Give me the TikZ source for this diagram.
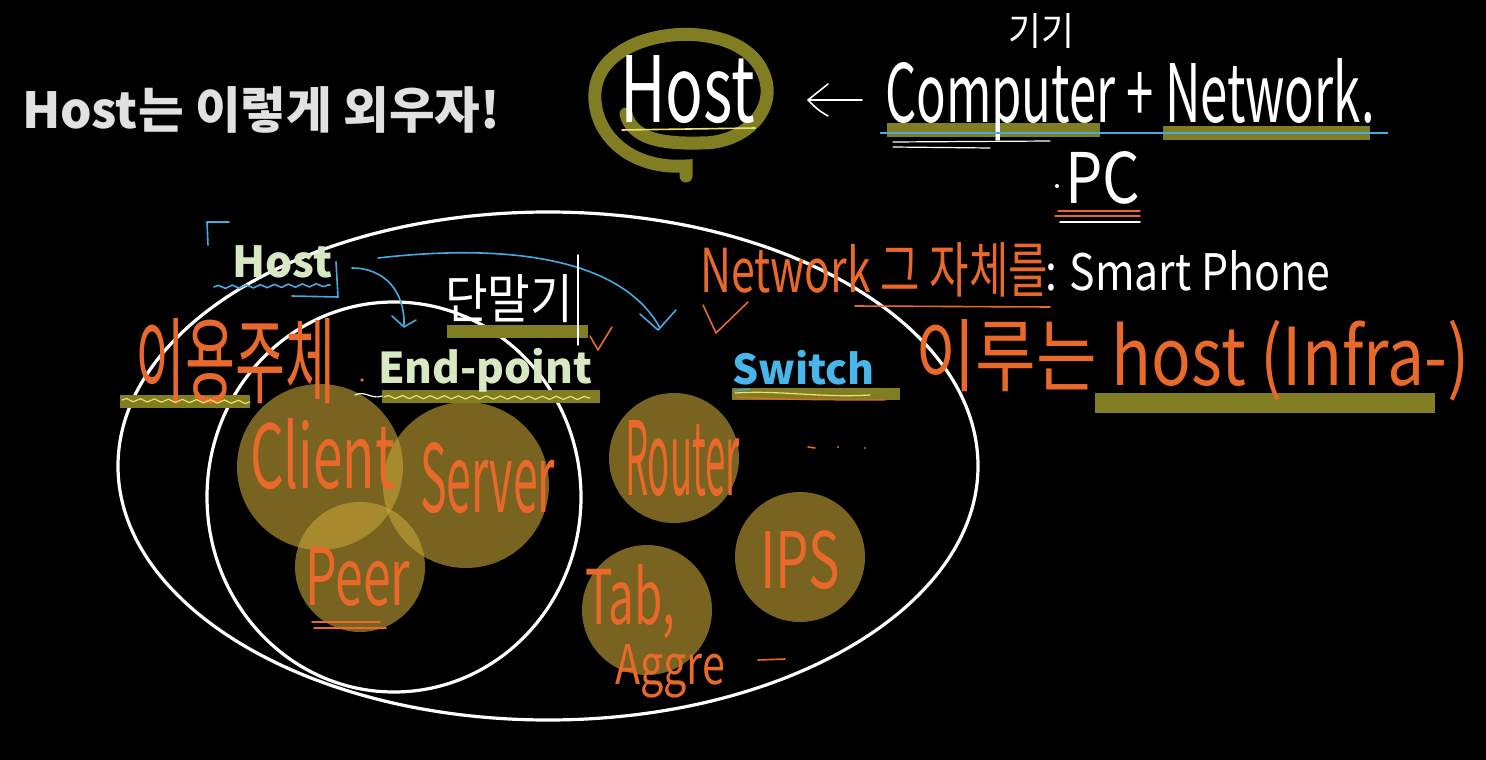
\documentclass[tikz,border=0pt]{standalone}
\usepackage{fontspec}
\setmainfont{Noto Sans CJK KR}
\usetikzlibrary{decorations.pathmorphing}
\definecolor{hiol}{RGB}{128,125,35}
\definecolor{orng}{RGB}{232,105,42}
\definecolor{pgreen}{RGB}{215,232,195}
\definecolor{sblue}{RGB}{72,182,235}
\definecolor{lblue}{RGB}{70,170,225}
\definecolor{gold}{RGB}{200,165,55}
\definecolor{ttl}{RGB}{225,225,225}
\definecolor{yel}{RGB}{235,225,110}
\newcommand\fitbox[3]{\resizebox{#1pt}{#2pt}{#3}}
\tikzset{
  hw/.style={inner sep=0pt, outer sep=0pt, anchor=base west},
  bar/.style={fill=hiol},
  ring/.style={draw=white, line width=3.2pt},
  blob/.style={fill=gold, fill opacity=0.6},
  pen/.style={line width=1.6pt, line cap=round, line join=round},
  wave/.style={pen, decorate, decoration={snake, amplitude=1.6pt, segment length=14pt}},
}
\begin{document}
\begin{tikzpicture}[x=1pt,y=-1pt]
\fill[black] (0,0) rectangle (1486,760);
\useasboundingbox (0,0) rectangle (1486,760);

% big ellipses
\draw[ring] (548,466) ellipse [x radius=430, y radius=254];
\draw[ring] (394,497) ellipse [x radius=187, y radius=195];

% circles
\fill[blob] (320,467) circle [radius=83];
\fill[blob] (466,485) circle [radius=83];
\fill[blob] (360,567) circle [radius=65];
\fill[blob] (674,458) circle [radius=65];
\fill[blob] (800,557) circle [radius=65];
\fill[blob] (647,610) circle [radius=65];

% highlight bars
\fill[bar] (887,123) rectangle (1100,137);
\fill[bar] (1163,126) rectangle (1370,140);
\fill[bar] (447,325) rectangle (588,338);
\fill[bar] (120,395) rectangle (250,408);
\fill[bar] (382,390) rectangle (600,403);
\fill[bar] (732,388) rectangle (900,400);
\fill[bar] (1095,393) rectangle (1435,413);

% spiral around Host
\draw[hiol, line width=13pt, line cap=round]
  (686,176) -- (686,166) .. controls (622,170) and (588,125) .. (596,85)
  .. controls (608,28) and (727,16) .. (759,65)
  .. controls (784,104) and (748,144) .. (700,143)
  .. controls (660,144) and (632,138) .. (626,114);

% title
\node[hw, text=ttl, font=\bfseries] (title) at (22,128) {\resizebox{478pt}{!}{Host는 이렇게 외우자!}};

% top handwriting
\node[hw, text=white] (hhost) at (620,122) {\fitbox{135}{67}{Host}};
\draw[pen, yel] (622,130) -- (755,128);
\draw[pen, white] (862,100) -- (810,100);
\draw[pen, white] (828,84) .. controls (818,92) .. (808,100) .. controls (818,110) .. (828,116);
\node[hw, text=white] (comp) at (885,122) {\fitbox{490}{64}{Computer + Network.}};
\node[hw, text=white] (gigi) at (1008,46) {\fitbox{66}{32}{기기}};
\draw[lblue, line width=1.2pt] (880,133) -- (1388,133);
\draw[pen, white, line width=1.2pt] (893,142) -- (1050,141);
\draw[pen, white, line width=1.2pt] (893,147) -- (990,148);
\fill[white] (1057,186) circle [radius=2];
\node[hw, text=white] (pc) at (1065,203) {\fitbox{75}{52}{PC}};
\draw[pen, orng] (1058,211) -- (1140,211);
\draw[pen, orng] (1055,216) -- (1140,216);
\draw[pen, white] (1060,222) -- (1140,222);

% Host label + marks
\node[hw, text=pgreen, font=\bfseries] (host) at (232,277) {\resizebox{100pt}{!}{Host}};
\draw[pen, lblue] (208,245) -- (207,222) -- (229,222);
\draw[pen, lblue] (336,262) -- (338,297) -- (292,296);
\draw[wave, lblue] (214,287) -- (330,285);
\draw[pen, lblue] (352,268) .. controls (385,268) and (405,292) .. (404,325);
\draw[pen, lblue] (392,316) -- (404,327) -- (416,320);
\draw[pen, lblue] (378,258) .. controls (500,244) and (620,255) .. (660,328);
\draw[pen, lblue] (640,314) -- (658,330) -- (676,310);

% 단말기
\node[hw, text=white] (danmal) at (445,318) {\fitbox{128}{44}{단말기}};
\draw[pen, white] (578,255) -- (578,345);

% checks
\draw[pen, orng] (590,336) -- (598,350) -- (612,327);
\draw[pen, orng] (703,305) -- (716,333) -- (748,302);

% 이용주체
\node[hw, text=orng] (iyong) at (135,396) {\fitbox{200}{78}{이용주체}};
\fill[orng] (362,380) circle [radius=1.8];
\draw[wave, yel, line width=1.2pt] (122,400) -- (250,402);
\draw[pen, white, line width=1.2pt] (355,395) .. controls (365,390) and (372,400) .. (382,396);

% End-point / Switch
\node[hw, text=pgreen, font=\bfseries] (endp) at (378,383) {\resizebox{214pt}{!}{End-point}};
\draw[wave, yel, line width=1.2pt] (384,397) -- (590,398);
\node[hw, text=sblue, font=\bfseries] (switch) at (732,384) {\resizebox{143pt}{!}{Switch}};
\draw[pen, yel, line width=1.2pt] (735,393) .. controls (780,390) and (820,398) .. (870,395);
\draw[pen, orng, line width=1.2pt] (736,397) .. controls (790,400) and (830,400) .. (885,400);
\draw[pen, lblue, line width=1.2pt] (734,391) -- (750,389);

% right side notes
\node[hw, text=orng] (netw) at (700,292) {\fitbox{348}{50}{Network 그 자체를}};
\draw[pen, orng] (855,306) -- (1050,307);
\node[hw, text=white] (smart) at (1045,290) {\fitbox{285}{40}{: Smart Phone}};
\node[hw, text=orng] (infra) at (915,385) {\fitbox{555}{66}{이루는 host (Infra-)}};

% circle labels
\node[hw, text=orng] (client) at (250,488) {\fitbox{145}{70}{Client}};
\node[hw, text=orng] (server) at (420,512) {\fitbox{135}{70}{Server}};
\node[hw, text=orng] (peer) at (305,605) {\fitbox{105}{58}{Peer}};
\draw[pen, orng] (312,622) -- (380,622);
\draw[pen, orng] (314,628) -- (386,628);
\node[hw, text=orng] (router) at (625,495) {\fitbox{115}{75}{Router}};
\node[hw, text=orng] (ips) at (760,588) {\fitbox{80}{58}{IPS}};
\node[hw, text=orng] (tab) at (585,624) {\fitbox{90}{60}{Tab,}};
\node[hw, text=orng] (aggre) at (615,684) {\fitbox{110}{40}{Aggre}};
\draw[pen, orng] (758,660) -- (785,659);
\draw[pen, orng] (808,447) -- (815,448);
\fill[orng] (838,447) circle [radius=1.2];
\fill[orng] (865,448) circle [radius=1.2];
\end{tikzpicture}
\end{document}
